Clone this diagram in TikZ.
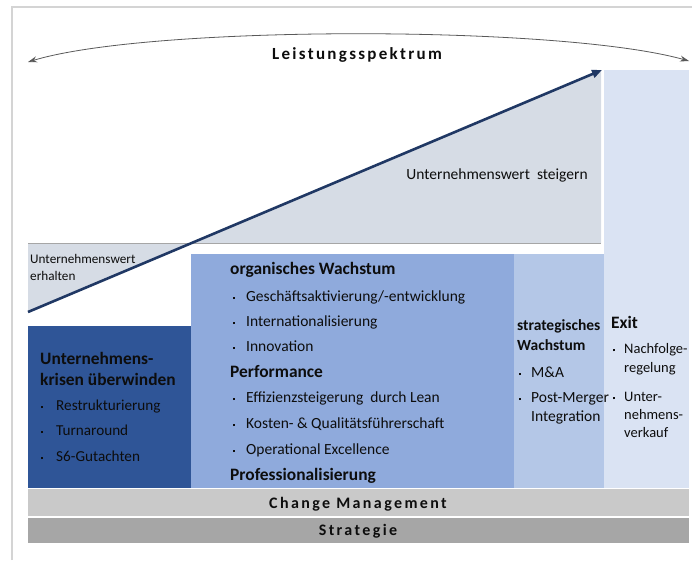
\documentclass[tikz,border=0pt]{standalone}
\usepackage{fontspec}
\setmainfont{Carlito}
\usetikzlibrary{arrows.meta}
\definecolor{dkblue}{HTML}{2F5597}
\definecolor{mdblue}{HTML}{8FAADC}
\definecolor{ltblue}{HTML}{B4C7E7}
\definecolor{xlblue}{HTML}{DAE3F3}
\definecolor{trigray}{HTML}{D6DCE5}
\definecolor{navy}{HTML}{203864}
\definecolor{cmgray}{HTML}{C9C9C9}
\definecolor{stgray}{HTML}{A6A6A6}
\definecolor{framegray}{HTML}{D4D4D4}
\definecolor{txt}{HTML}{0D0D0D}
\newcommand\bul[2][13pt]{\makebox[#1][l]{\raisebox{0.25ex}{\rule{2.2pt}{2.2pt}}}#2}
\tikzset{
  item/.style={anchor=base west, inner sep=0pt, text=txt, font=\fontsize{15.5}{18}\selectfont},
  sitem/.style={anchor=base west, inner sep=0pt, text=txt, font=\fontsize{14.5}{17}\selectfont},
  head/.style={anchor=base west, inner sep=0pt, text=txt, font=\fontsize{17.4}{20}\selectfont\bfseries},
  shead/.style={anchor=base west, inner sep=0pt, text=txt, font=\fontsize{15.5}{18}\selectfont\bfseries},
  spaced/.style={inner sep=0pt, text=txt, font=\fontsize{16}{18}\selectfont\bfseries\addfontfeature{LetterSpace=15}},
}
\begin{document}
\begin{tikzpicture}[x=1pt,y=-1pt]
\useasboundingbox (0,0) rectangle (692,560);
% frame
\draw[framegray, line width=1.5pt] (12,560) -- (12,7) -- (692,7);
% triangles
\fill[trigray] (191,243) -- (601,70) -- (601,243) -- cycle;
\fill[trigray] (28,243) -- (191,243) -- (28,312) -- cycle;
\draw[stgray, line width=1.8pt] (28,243.5) -- (601,243.5);
% columns
\fill[xlblue] (604,70) rectangle (689,488);
\fill[ltblue] (514,254) rectangle (604,488);
\fill[mdblue] (191,254) rectangle (514,488);
\fill[dkblue] (28,326) rectangle (191,488);
% bars
\fill[cmgray] (28,489) rectangle (689,516);
\fill[stgray] (28,518) rectangle (689,543);
% arc
\coordinate (arcL) at (28,62);
\coordinate (arcR) at (689,61);
\draw[black!65, line width=0.8pt, {Stealth[length=9pt,width=6pt]}-{Stealth[length=9pt,width=6pt]}] (arcL) .. controls (150,25) and (560,25) .. (arcR);
\node[spaced, font=\fontsize{17}{19}\selectfont\bfseries\addfontfeature{LetterSpace=13.5}] (title) at (357,55) {Leistungsspektrum};
% value arrow
\coordinate (vstart) at (28,312);
\coordinate (vend) at (602,70);
\draw[navy, line width=2.6pt, -{Triangle[length=10pt,width=8pt]}] (vstart) -- (vend);
\node[inner sep=0pt, text=txt, font=\fontsize{15.5}{18}\selectfont] (steigern) at (497,175) {Unternehmenswert\ \ steigern};
\node[anchor=base west, inner sep=0pt, text=txt, font=\fontsize{13.2}{15}\selectfont] (erh1) at (30,263) {Unternehmenswert};
\node[anchor=base west, inner sep=0pt, text=txt, font=\fontsize{13.2}{15}\selectfont] (erh2) at (30,280) {erhalten};
% crisis
\node[head] (k1) at (40,364) {Unternehmens-};
\node[head] (k2) at (40,385) {krisen überwinden};
\node[item, font=\fontsize{15.2}{18}\selectfont] (k3) at (41,410) {\bul[15pt]{Restrukturierung}};
\node[item, font=\fontsize{15.2}{18}\selectfont] (k4) at (41,435) {\bul[15pt]{Turnaround}};
\node[item, font=\fontsize{15.2}{18}\selectfont] (k5) at (41,461) {\bul[15pt]{S6-Gutachten}};
% organic
\node[head] (o1) at (230,274) {organisches Wachstum};
\node[item] (o2) at (233,301) {\bul{Geschäftsaktivierung/-entwicklung}};
\node[item] (o3) at (233,326) {\bul{Internationalisierung}};
\node[item] (o4) at (233,351) {\bul{Innovation}};
\node[head] (o5) at (230,377) {Performance};
\node[item] (o6) at (233,402) {\bul{Effizienzsteigerung\ \ durch Lean}};
\node[item] (o7) at (233,428) {\bul{Kosten- \& Qualitätsführerschaft}};
\node[item] (o8) at (233,454) {\bul{Operational Excellence}};
\node[head] (o9) at (230,480) {Professionalisierung};
% strategic
\node[shead] (s1) at (517,330) {strategisches};
\node[shead] (s2) at (517,350) {Wachstum};
\node[sitem, font=\fontsize{15.5}{18}\selectfont] (s3) at (519,377) {\bul[12pt]{M\&A}};
\node[sitem, font=\fontsize{15.5}{18}\selectfont] (s4) at (519,402) {\bul[12pt]{Post-Merger}};
\node[sitem, font=\fontsize{15.5}{18}\selectfont] (s5) at (531,421) {Integration};
% exit
\node[head] (e1) at (611,328) {Exit};
\node[sitem] (e2) at (613,353) {\bul[11pt]{Nachfolge-}};
\node[sitem] (e3) at (624,372) {regelung};
\node[sitem] (e4) at (613,401) {\bul[11pt]{Unter-}};
\node[sitem] (e5) at (624,419) {nehmens-};
\node[sitem] (e6) at (624,437) {verkauf};
% bars text
\node[spaced] (cm) at (358,504) {Change Management};
\node[spaced] (st) at (358,531) {Strategie};
\end{tikzpicture}
\end{document}
